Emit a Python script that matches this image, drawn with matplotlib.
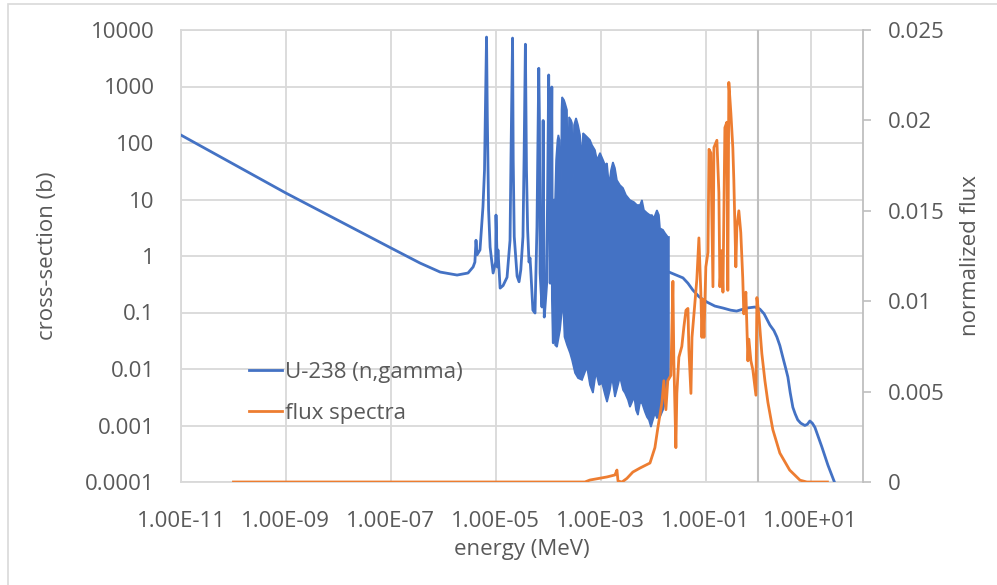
import matplotlib
matplotlib.use("Agg")
import matplotlib.pyplot as plt
from matplotlib.patches import Rectangle
from matplotlib.ticker import FuncFormatter, NullLocator

plt.rcParams['font.family'] = ['Open Sans', 'DejaVu Sans']

BLUE = '#4472C4'
ORANGE = '#ED7D31'
GRID = '#d9d9d9'
AXIS = '#bfbfbf'
TEXT = '#595959'

# U-238 (n,gamma): 1/v part and first resolved resonances (energy in MeV, xs in barn)
capture_e = [1e-11, 1e-9, 1e-7, 3.6e-7, 8.7e-7, 1.83e-6, 2.96e-6, 3.7e-6, 4.0e-6, 4.2e-6,
             4.4e-6, 5.0e-6, 5.7e-6, 6.1e-6, 6.4e-6, 6.67e-6, 6.9e-6, 7.3e-6, 7.8e-6, 8.9e-6,
             9.95e-6, 1.01e-5, 1.07e-5, 1.1e-5, 1.21e-5, 1.38e-5, 1.64e-5, 1.87e-5, 1.95e-5, 2.09e-5,
             2.15e-5, 2.25e-5, 2.55e-5, 2.78e-5, 3.0e-5, 3.3e-5, 3.47e-5, 3.67e-5, 3.85e-5, 4.05e-5,
             4.3e-5, 4.5e-5, 4.7e-5, 5.1e-5, 5.6e-5, 6.1e-5, 6.6e-5, 6.8e-5, 7.0e-5, 7.6e-5,
             8.0e-5, 8.4e-5, 9.35e-5, 9.7e-5, 1.02e-4, 1.05e-4, 1.09e-4, 1.13e-4, 1.17e-4, 1.2e-4,
             1.25e-4, 1.30e-4]
capture_xs = [138, 13, 1.39, 0.75, 0.52, 0.46, 0.5, 0.64, 0.78, 1.9,
              1.05, 1.28, 7.4, 33, 650, 7500, 290, 6.5, 1.44, 0.5,
              0.78, 5.3, 0.64, 1.28, 0.27, 0.3, 0.42, 1.9, 57, 7200,
              50, 2.2, 0.44, 0.35, 0.57, 2.2, 61, 5600, 33, 2.9,
              0.78, 0.92, 0.46, 0.11, 0.098, 3.3, 2100, 250, 0.5, 0.125,
              250, 0.083, 0.33, 9.8, 1600, 75, 0.33, 9.8, 980, 0.17,
              0.029, 9.8]

# dense resonance region (0.13 keV - 20 keV), upper and lower envelope
dense_top_e = [1.35e-4, 1.41e-4, 1.50e-4, 1.56e-4, 1.64e-4, 1.73e-4, 1.79e-4, 1.83e-4, 2.00e-4, 2.09e-4,
               2.28e-4, 2.38e-4, 2.49e-4, 2.72e-4, 2.84e-4, 2.96e-4, 3.10e-4, 3.39e-4, 3.70e-4, 4.04e-4,
               4.41e-4, 4.60e-4, 5.02e-4, 5.73e-4, 6.25e-4, 6.82e-4, 7.78e-4, 8.51e-4, 9.70e-4, 1.11e-3,
               1.21e-3, 1.32e-3, 1.44e-3, 1.57e-3, 1.71e-3, 1.87e-3, 2.04e-3, 2.33e-3, 2.66e-3, 3.03e-3,
               3.61e-3, 4.31e-3, 4.91e-3, 5.61e-3, 6.12e-3, 6.68e-3, 7.62e-3, 8.69e-3, 9.48e-3, 1.035e-2,
               1.18e-2, 1.29e-2, 1.35e-2, 1.54e-2, 1.68e-2, 1.91e-2, 2.00e-2]
dense_top_xs = [9.8, 50, 113, 139, 113, 2.55, 384, 652, 577, 510,
                384, 10.6, 289, 255, 226, 20, 208, 277, 208, 139,
                50, 150, 139, 123, 113, 92, 75, 50, 67, 50,
                41, 44, 18, 33, 46, 36, 22, 18, 16, 12,
                9.8, 9.0, 8.0, 8.0, 9.8, 6.5, 5.8, 5.3, 5.3, 4.7,
                6.5, 5.3, 3.1, 2.9, 2.55, 2.17, 2.17]
dense_bot_e = [1.35e-4, 1.47e-4, 1.68e-4, 1.91e-4, 2.04e-4, 2.28e-4, 2.60e-4, 2.84e-4, 3.24e-4, 3.70e-4,
               4.41e-4, 5.02e-4, 5.48e-4, 6.25e-4, 7.13e-4, 8.13e-4, 9.29e-4, 1.06e-3, 1.21e-3, 1.32e-3,
               1.50e-3, 1.64e-3, 1.87e-3, 2.14e-3, 2.33e-3, 2.66e-3, 2.90e-3, 3.31e-3, 3.61e-3, 4.12e-3,
               4.31e-3, 4.70e-3, 5.13e-3, 5.61e-3, 6.12e-3, 6.98e-3, 7.62e-3, 8.32e-3, 9.08e-3, 9.91e-3,
               1.08e-2, 1.18e-2, 1.35e-2, 1.54e-2, 1.75e-2, 1.91e-2, 2.00e-2]
dense_bot_xs = [0.0266, 0.0245, 0.049, 0.166, 0.037, 0.0266, 0.0192, 0.0144, 0.0085, 0.0069,
                0.0064, 0.00885, 0.0108, 0.0052, 0.00376, 0.00885, 0.0052, 0.00565, 0.00347, 0.0026,
                0.00425, 0.0072, 0.0032, 0.0052, 0.0072, 0.00425, 0.00376, 0.00283, 0.00212, 0.00283,
                0.00347, 0.00188, 0.00153, 0.0025, 0.0025, 0.00173, 0.00141, 0.00125, 0.00094, 0.00125,
                0.00166, 0.00136, 0.00141, 0.00188, 0.00283, 0.0072, 0.0072]

# smooth part above the resolved range
tail_e = [2.0e-2, 3.7e-2, 4.6e-2, 5.7e-2, 7.5e-2, 0.106, 0.15, 0.214, 0.3, 0.39,
          0.61, 0.87, 1.08, 1.3, 1.68, 2.0, 2.28, 2.6, 2.97, 3.3,
          3.7, 4.1, 4.6, 5.1, 5.7, 6.5, 7.8, 8.7, 9.7, 10.8,
          12.1, 16.4, 21.4, 29]
tail_xs = [0.52, 0.41, 0.33, 0.25, 0.19, 0.153, 0.13, 0.12, 0.11, 0.106,
           0.12, 0.125, 0.115, 0.095, 0.06, 0.048, 0.037, 0.026, 0.016, 0.011,
           0.0072, 0.0038, 0.0021, 0.0016, 0.00126, 0.0011, 0.001, 0.00105, 0.0012, 0.0011,
           0.00093, 0.00042, 0.0002, 0.000096]

# flux spectrum (right axis)
flux_e = [1e-10, 5.0e-4, 6.25e-4, 1.32e-3, 1.87e-3, 2.04e-3, 2.14e-3, 2.55e-3, 3.16e-3, 4.1e-3,
          5.6e-3, 8.7e-3, 1.08e-2, 1.23e-2, 1.47e-2, 1.6e-2, 1.75e-2, 1.9e-2, 2.18e-2, 2.38e-2,
          2.48e-2, 2.71e-2, 2.83e-2, 3.09e-2, 3.52e-2, 3.86e-2, 4.22e-2, 4.6e-2, 4.8e-2, 5.25e-2,
          5.5e-2, 6.0e-2, 6.8e-2, 7.45e-2, 8.1e-2, 8.5e-2, 8.9e-2, 9.3e-2, 0.101, 0.111,
          0.116, 0.126, 0.138, 0.144, 0.164, 0.179, 0.187, 0.204, 0.214, 0.233,
          0.254, 0.265, 0.277, 0.303, 0.33, 0.345, 0.377, 0.394, 0.43, 0.468,
          0.51, 0.535, 0.585, 0.64, 0.667, 0.73, 0.795, 0.91, 0.95, 1.03,
          1.18, 1.35, 1.54, 1.91, 2.6, 4.0, 6.3, 8.5, 21]
flux_val = [0, 0, 0.00011, 0.00028, 0.00039, 0.00066, 0.00005, 0, 0.0002, 0.00055,
            0.00077, 0.00105, 0.0019, 0.0030, 0.0044, 0.0056, 0.0040, 0.0056, 0.0059, 0.0111,
            0.0067, 0.0019, 0.0049, 0.0069, 0.0075, 0.0086, 0.0095, 0.0096, 0.0073, 0.0049,
            0.0080, 0.0093, 0.0112, 0.0135, 0.0105, 0.0080, 0.0101, 0.0080, 0.0119, 0.0127,
            0.0184, 0.0182, 0.0108, 0.0185, 0.0189, 0.0160, 0.0108, 0.0128, 0.0105, 0.0196,
            0.0199, 0.0106, 0.0221, 0.0204, 0.0185, 0.0167, 0.0119, 0.0141, 0.0150, 0.0138,
            0.0113, 0.0093, 0.0105, 0.0067, 0.0079, 0.0067, 0.0062, 0.0048, 0.0102, 0.0093,
            0.0071, 0.0056, 0.0044, 0.0029, 0.0016, 0.00066, 0.0001, 0, 0]

x_ticks = [1e-11, 1e-9, 1e-7, 1e-5, 1e-3, 1e-1, 1e1]
y_ticks = [1e-4, 1e-3, 1e-2, 1e-1, 1, 10, 100, 1000, 10000]
flux_ticks = [0, 0.005, 0.01, 0.015, 0.02, 0.025]

fig = plt.figure(figsize=(9.97, 5.85), dpi=100)
ax = fig.add_axes([181 / 997, 1 - 482 / 585, 682 / 997, 452 / 585])

# chart area border (Excel style)
fig.patches.append(Rectangle((8 / 997, -0.1), 1.2, 1.1 - 4 / 585, transform=fig.transFigure,
                             fill=False, edgecolor=GRID, lw=1.2))

ax.set_xscale('log')
ax.set_yscale('log')
ax.set_xlim(1e-11, 1e2)
ax.set_ylim(1e-4, 1e4)
ax.set_axisbelow(True)

lw = 2.0
ax.plot(capture_e + dense_top_e[:1], capture_xs + dense_top_xs[:1], color=BLUE, lw=lw,
        label='U-238 (n,gamma)', solid_joinstyle='round', zorder=2)
ax.fill(dense_top_e + dense_bot_e[::-1], dense_top_xs + dense_bot_xs[::-1],
        facecolor=BLUE, edgecolor=BLUE, lw=1.2, zorder=2)
ax.plot(tail_e, tail_xs, color=BLUE, lw=lw, zorder=2)

ax.set_xticks(x_ticks)
ax.xaxis.set_minor_locator(NullLocator())
ax.xaxis.set_major_formatter(FuncFormatter(lambda v, p: f"{v:.2E}"))
ax.set_yticks(y_ticks)
ax.yaxis.set_minor_locator(NullLocator())
ax.yaxis.set_major_formatter(FuncFormatter(lambda v, p: f"{v:g}"))
ax.tick_params(axis='both', length=0, labelsize=16, labelcolor=TEXT)
ax.tick_params(axis='x', pad=21)
ax.tick_params(axis='y', pad=19)
ax.grid(True, color=GRID, lw=1.3)
ax.axvline(1.0, color=AXIS, lw=1.5, zorder=1)
for s in ['top', 'bottom', 'left']:
    ax.spines[s].set_color(GRID)
    ax.spines[s].set_linewidth(1.3)
    ax.spines[s].set_zorder(0.5)
ax.spines['right'].set_visible(False)

ax2 = ax.twinx()
ax2.plot(flux_e, flux_val, color=ORANGE, lw=lw, label='flux spectra', solid_joinstyle='round')
ax2.set_ylim(0, 0.025)
ax2.set_yticks(flux_ticks)
ax2.yaxis.set_major_formatter(FuncFormatter(lambda v, p: f"{v:g}"))
ax2.tick_params(axis='y', length=6, width=1.2, color=AXIS, pad=12, labelsize=16, labelcolor=TEXT)
for s in ['top', 'bottom', 'left']:
    ax2.spines[s].set_visible(False)
ax2.spines['right'].set_color(AXIS)
ax2.spines['right'].set_linewidth(1.3)

h1, l1 = ax.get_legend_handles_labels()
h2, l2 = ax2.get_legend_handles_labels()
ax2.legend(h1 + h2, l1 + l2, loc='upper left', bbox_to_anchor=(0.07, 0.31), frameon=False,
           fontsize=16, labelcolor=TEXT, handlelength=1.5, handletextpad=0.15, labelspacing=0.9)

fig.text(48 / 997, 1 - 256 / 585, 'cross-section (b)', rotation=90, ha='center', va='center',
         fontsize=16, color=TEXT)
fig.text(970 / 997, 1 - 256 / 585, 'normalized flux', rotation=90, ha='center', va='center',
         fontsize=16, color=TEXT)
fig.text(522 / 997, 1 - 550 / 585, 'energy (MeV)', ha='center', va='center', fontsize=16, color=TEXT)

fig.savefig('out.png', dpi=100)
